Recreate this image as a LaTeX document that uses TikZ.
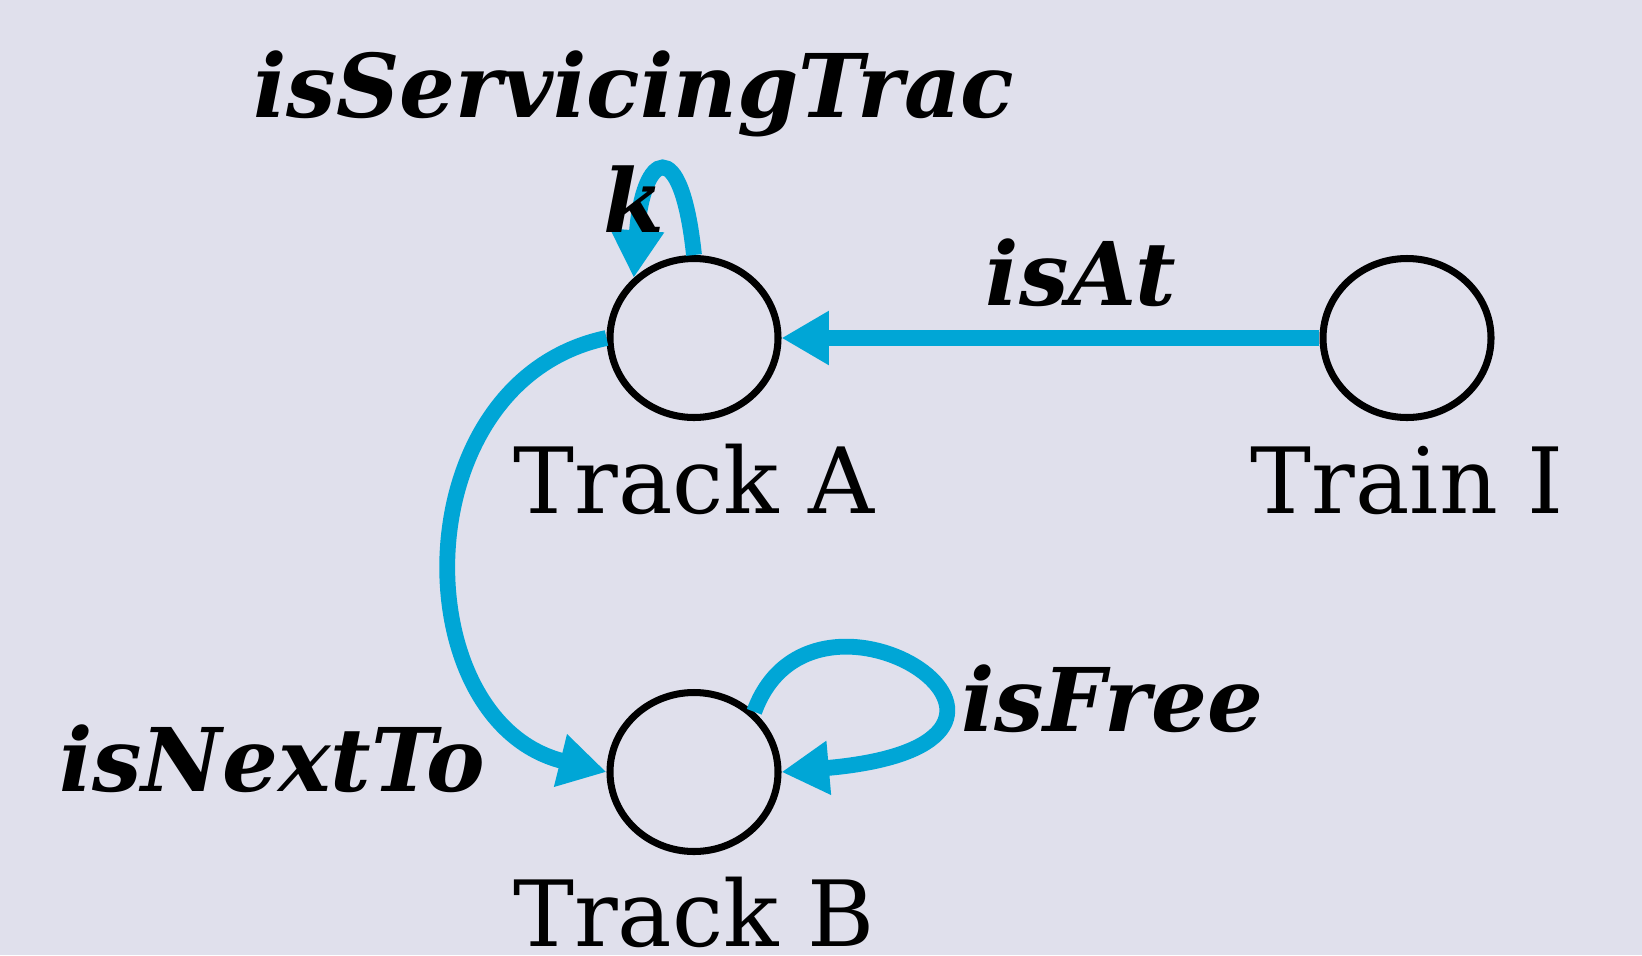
\documentclass[tikz,border=0pt]{standalone}
\usepackage{fontspec}
\setmainfont{DejaVu Serif}
\usetikzlibrary{arrows.meta,shapes.geometric}

\definecolor{linkblue}{RGB}{0,166,214}
\definecolor{paper}{RGB}{224,224,236}

\begin{document}
\begin{tikzpicture}[scale=0.2]
	\tikzstyle{every node}+=[inner sep=0pt]
	\tikzstyle{thing}=[draw=black, line width=4pt, ellipse, minimum width=3.36cm, minimum height=3.18cm]
	\tikzstyle{thingname}=[anchor=base, font=\fontsize{52}{62}\selectfont]
	\tikzstyle{relname}=[anchor=base, font=\fontsize{50}{65}\selectfont\bfseries\itshape]
	\tikzstyle{relarrow}=[draw=linkblue, line width=9pt, -{Triangle[length=27pt,width=29pt]}]
	\useasboundingbox (0,0) rectangle (164.2,-95.5);
	\fill [paper] (0,0) rectangle (164.2,-95.5);
	% the three things
	\node [thing] (trackA) at (69.4,-33.8) {};
	\node [thing] (trainI) at (140.7,-33.8) {};
	\node [thing] (trackB) at (69.4,-77.2) {};
	\node [thingname] (trackAName) at (69.4,-51.3) {Track A};
	\node [thingname] (trainIName) at (140.7,-51.3) {Train I};
	\node [thingname] (trackBName) at (69.4,-94.6) {Track B};
	% relations between them
	\draw [relarrow] (trainI.west) -- (trackA.east);
	\node [relname] (isAtName) at (108.1,-30.5) {isAt};
	\draw [relarrow] (trackA.north) .. controls +(96:12.5) and +(86:12.5) .. (trackA.135);
	\node [relname, align=center] (servName) at (63.4,-23.2) {isServicingTrac\\k};
	\draw [relarrow] (trackA.west) .. controls +(192:21) and +(166:21) .. (trackB.west);
	\node [relname] (nextName) at (27.2,-79.1) {isNextTo};
	\draw [relarrow] (trackB.45) .. controls +(70:17.5) and +(5:33) .. (trackB.east);
	\node [relname] (freeName) at (111.2,-73.1) {isFree};
\end{tikzpicture}
\end{document}
